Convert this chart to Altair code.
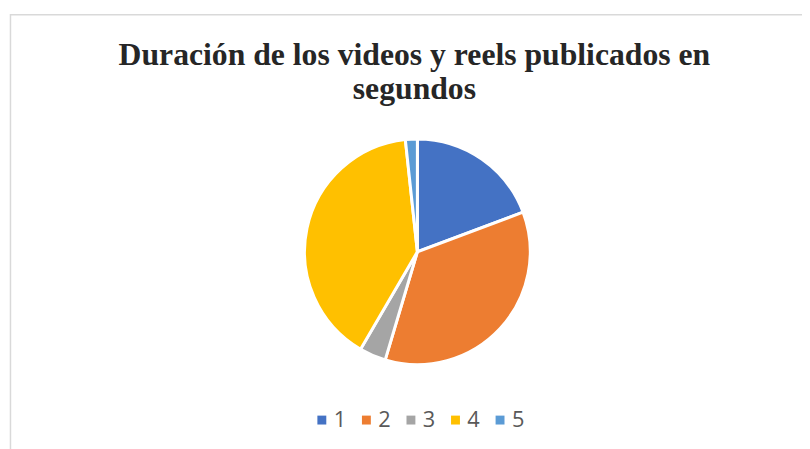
import altair as alt
import pandas as pd

categories = ["1", "2", "3", "4", "5"]
values = [19.3, 35.3, 3.8, 39.9, 1.7]
colors = ["#4472C4", "#ED7D31", "#A5A5A5", "#FFC000", "#5B9BD5"]
title_lines = ["Duración de los videos y reels publicados en", "segundos"]

df = pd.DataFrame({"cat": categories, "val": values, "order": list(range(len(categories)))})
one = pd.DataFrame({"a": [0]})

border = alt.Chart(one).mark_rect(filled=False, stroke="#d9d9d9", strokeWidth=1.5).encode(
    x=alt.value(2.5), x2=alt.value(1200), y=alt.value(4.5), y2=alt.value(1200)
)

pie = alt.Chart(df).mark_arc(radius=114, stroke="white", strokeWidth=3).encode(
    theta=alt.Theta("val:Q", stack=True),
    order=alt.Order("order:Q"),
    color=alt.Color(
        "cat:N",
        scale=alt.Scale(domain=categories, range=colors),
        legend=alt.Legend(
            title=None,
            orient="none",
            legendX=306,
            legendY=403,
            direction="horizontal",
            symbolType="square",
            symbolSize=81,
            symbolStrokeWidth=0,
            labelFont="Open Sans",
            labelFontSize=22,
            labelColor="#595959",
            labelOffset=1,
            columnPadding=9,
            padding=0,
        ),
    ),
    x=alt.value(413.5),
    y=alt.value(244),
)

t1 = alt.Chart(one).mark_text(
    text=title_lines[0], font="Liberation Serif", fontSize=32, fontWeight="bold",
    color="#262626", align="center", baseline="alphabetic"
).encode(x=alt.value(410.5), y=alt.value(55.3))
t2 = alt.Chart(one).mark_text(
    text=title_lines[1], font="Liberation Serif", fontSize=32, fontWeight="bold",
    color="#262626", align="center", baseline="alphabetic"
).encode(x=alt.value(410.5), y=alt.value(89.5))

chart = alt.layer(border, pie, t1, t2).properties(
    width=802, height=441, padding=0, autosize=alt.AutoSizeParams(type="none")
).configure_view(stroke=None)

chart.save("out.html", embed_options={"renderer": "svg", "actions": False})
